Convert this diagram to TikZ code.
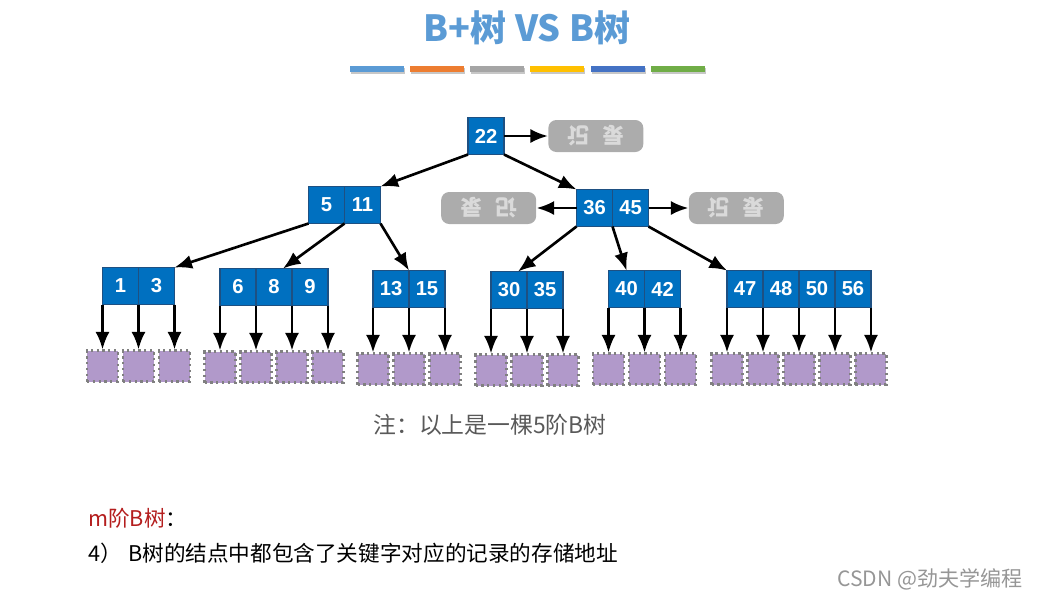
\documentclass[tikz,border=0pt]{standalone}
\usepackage{fontspec}
\setmainfont{Liberation Sans}
\newfontfamily\cjk{Noto Sans CJK SC}
\usetikzlibrary{arrows.meta,calc,positioning}

\definecolor{cellblue}{RGB}{0,112,192}
\definecolor{cellline}{RGB}{30,80,130}
\definecolor{recgray}{RGB}{172,172,172}
\definecolor{rectext}{RGB}{218,218,218}
\definecolor{leafpurple}{RGB}{177,153,202}
\definecolor{titleblue}{RGB}{91,155,213}
\definecolor{notegray}{RGB}{89,89,89}
\definecolor{darkred}{RGB}{180,30,30}
\definecolor{csdngray}{RGB}{150,150,150}
\definecolor{barA}{RGB}{91,155,213}
\definecolor{barB}{RGB}{237,125,49}
\definecolor{barC}{RGB}{165,165,165}
\definecolor{barD}{RGB}{255,192,0}
\definecolor{barE}{RGB}{68,114,196}
\definecolor{barF}{RGB}{112,173,71}

\begin{document}
\begin{tikzpicture}[x=0.02cm, y=-0.02cm]
  \tikzset{cell/.style={draw=cellline, fill=cellblue, line width=1pt, outer sep=0pt,
      minimum width=0.72cm, minimum height=0.74cm, inner sep=0pt, text=white,
      font=\fontsize{11.5}{13}\selectfont\bfseries},
    recbox/.style={fill=recgray, rounded corners=0.16cm, minimum width=1.9cm,
      minimum height=0.64cm, inner sep=0pt, text=rectext,
      font=\cjk\fontsize{12.5}{14}\selectfont\bfseries},
    leaf/.style={draw=gray, dotted, line width=1.3pt, fill=leafpurple,
      minimum size=0.62cm, inner sep=0pt},
    arr/.style={-{Latex[length=10pt,width=8pt]}, line width=1.5pt}}
  \useasboundingbox (0,0) rectangle (1040,599);

  % title and colour bars
  \node[font=\cjk\fontsize{20.5}{24}\selectfont\bfseries, text=titleblue] (title) at (527,28)
    {B+树 VS B树};
  \foreach \c [count=\i from 0] in {barA,barB,barC,barD,barE,barF} {
    \fill[black!22] (350.5+\i*60.3,67.5) rectangle +(54,6);
    \fill[\c] (349.5+\i*60.3,66) rectangle +(54,6);
  }

  % root and inner nodes
  \node[cell] (n22) at (486,136) {22};
  \node[cell] (n5) at (326.5,205) {5};
  \node[cell, right=0pt of n5] (n11) {11};
  \node[cell] (n36) at (594.5,208) {36};
  \node[cell, right=0pt of n36] (n45) {45};

  % records
  \node[recbox, right=0.88cm of n22] (rec22) {\scalebox{1}[-1]{记\hspace{0.6em}录}};
  \node[recbox, left=0.8cm of n36] (rec36) {\rotatebox{180}{记\hspace{0.6em}录}};
  \node[recbox, right=0.8cm of n45] (rec45) {\scalebox{1}[-1]{记\hspace{0.6em}录}};

  % leaves
  \node[cell] (n1) at (120.5,286) {1};
  \node[cell, right=0pt of n1] (n3) {3};
  \node[cell] (n6) at (238,287) {6};
  \node[cell, right=0pt of n6] (n8) {8};
  \node[cell, right=0pt of n8] (n9) {9};
  \node[cell] (n13) at (391,289) {13};
  \node[cell, right=0pt of n13] (n15) {15};
  \node[cell] (n30) at (509,290) {30};
  \node[cell, right=0pt of n30] (n35) {35};
  \node[cell] (n40) at (626.5,289) {40};
  \node[cell, right=0pt of n40] (n42) {42};
  \node[cell] (n47) at (745,289) {47};
  \node[cell, right=0pt of n47] (n48) {48};
  \node[cell, right=0pt of n48] (n50) {50};
  \node[cell, right=0pt of n50] (n56) {56};

  % tree edges
  \draw[arr] (n22.south west) -- (n11.north east);
  \draw[arr] (n22.south east) -- (n36.north west);
  \draw[arr] (n22.east) -- (rec22);
  \draw[arr] (n36.west) -- (rec36);
  \draw[arr] (n45.east) -- (rec45);
  \draw[arr] (n5.south west) -- (n3.north east);
  \draw[arr] (n5.south east) -- ($(n8.north)!0.5!(n8.north east)$);
  \draw[arr] (n11.south east) -- (n13.north east);
  \draw[arr] (n36.south west) -- ($(n30.north)!0.5!(n30.north east)$);
  \draw[arr] (n36.south east) -- (n40.north);
  \draw[arr] (n45.south east) -- (n47.north west);

  % data pages under the leaves
  \foreach \c [count=\k] in {n1.south west, n1.south east, n3.south east,
      n6.south west, n6.south east, n8.south east, n9.south east,
      n13.south west, n13.south east, n15.south east,
      n30.south west, n30.south east, n35.south east,
      n40.south west, n40.south east, n42.south east,
      n47.south west, n47.south east, n48.south east, n50.south east, n56.south east} {
    \node[leaf, below=0.9cm of \c] (p\k) {};
    \draw[arr] (\c) -- (p\k);
  }

  % notes
  \node[font=\cjk\fontsize{13}{15}\selectfont, text=notegray] (note) at (490,425)
    {注：以上是一棵5阶B树};
  \node[anchor=west, font=\cjk\fontsize{12.3}{14}\selectfont] (morder) at (82,518)
    {\textcolor{darkred}{m阶B树}：};
  \node[anchor=west, font=\cjk\fontsize{12.3}{14}\selectfont] (item4) at (82,553)
    {4）\hspace{0.3em}B树的结点中都包含了关键字对应的记录的存储地址};
  \node[anchor=east, font=\cjk\fontsize{12}{14}\selectfont, text=csdngray] (csdn) at (1029,579)
    {CSDN @劲夫学编程};
\end{tikzpicture}
\end{document}
